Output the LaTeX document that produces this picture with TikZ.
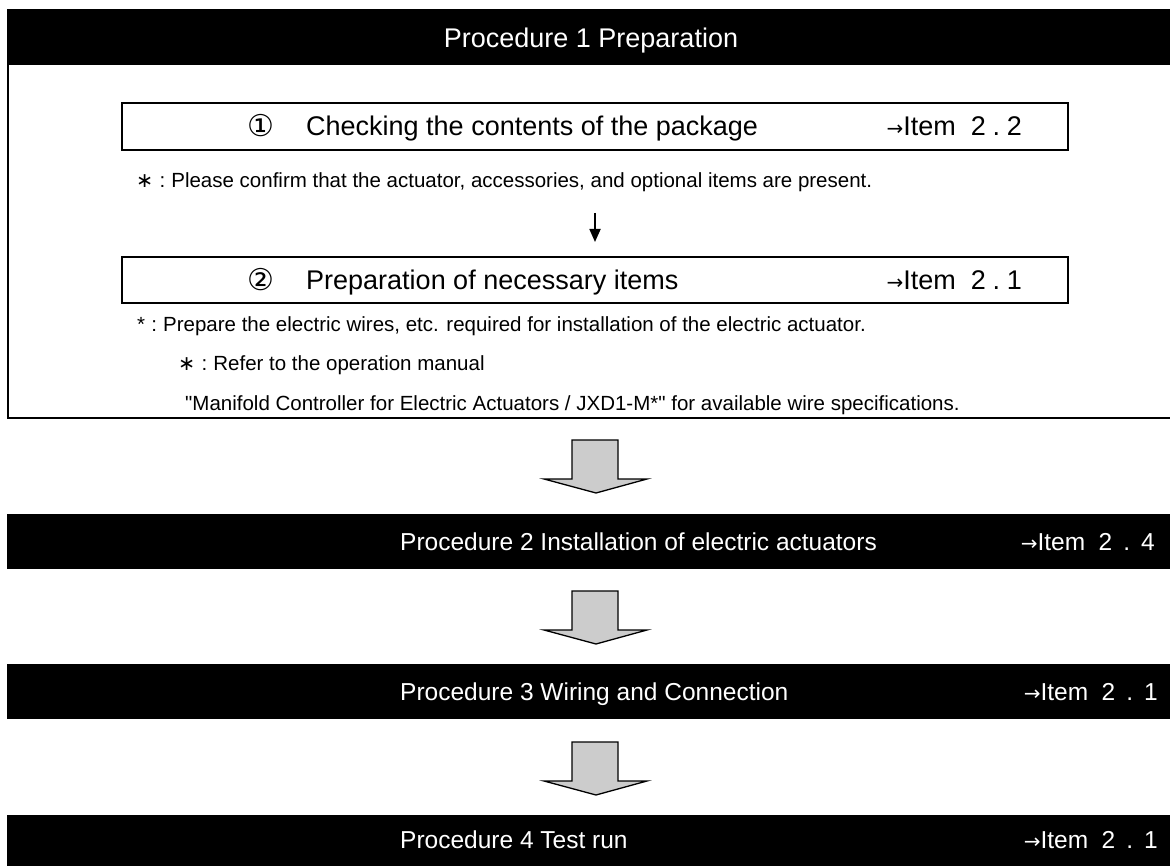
\documentclass[tikz,border=0pt]{standalone}
\usepackage{fontspec}
\setmainfont{Liberation Sans}[Ligatures=TeXOff]
\newfontfamily\symfont{DejaVu Sans}
\usetikzlibrary{positioning,arrows.meta}
\newcommand{\bigtxt}{\fontsize{27}{32}\selectfont}
\newcommand{\bartxt}{\fontsize{24.5}{30}\selectfont}
\newcommand{\notetxt}{\fontsize{20.5}{24}\selectfont}
\newcommand{\itemno}[3][0.25em]{{\symfont\fontsize{20}{20}\selectfont →}Item\hspace{0.55em}#2\hspace{#1}.\hspace{#1}#3}

\begin{document}
\begin{tikzpicture}[x=1pt,y=-1pt,>={Triangle[length=13pt,width=11pt]},
  every node/.style={inner sep=0pt},
  bar/.style={fill=black,minimum width=1168pt,minimum height=55pt},
  stepbox/.style={draw,line width=2pt,minimum width=946pt,minimum height=47pt},
  head/.style={font=\bartxt,text=white,anchor=base west},
  main/.style={font=\bigtxt,anchor=base west},
  note/.style={font=\notetxt,anchor=base west},
  bigarrow/.style={draw,line width=1.3pt,fill=black!20,line join=miter}]
\useasboundingbox (0,0) rectangle (1170,866);

% procedure 1 frame
\draw[line width=2pt] (8,10) rectangle (1176,418);
\node[bar] (p1) at (591,38) {};
\node[head,font=\bigtxt,anchor=base] (p1t) at (591,47.5) {Procedure 1 Preparation};

\node[stepbox] (chk) at (595,126.5) {};
\node[main] (chkn) at (247,137) {\symfont\fontsize{30}{30}\selectfont ①};
\node[main] (chkt) at (306,136) {Checking the contents of the package};
\node[main,anchor=base east] (chkr) at (1022,136) {\itemno{2}{2}};
\node[note] (n1) at (136,188) {{\symfont ∗}\hspace{0.3em}:\hspace{0.3em}Please confirm that the actuator, accessories, and optional items are present.};

\coordinate (a1) at (595,213);
\node[stepbox,minimum height=46pt] (prep) at (595,280) {};
\node[main] (prepn) at (247,290.5) {\symfont\fontsize{30}{30}\selectfont ②};
\node[main] (prept) at (306,289.5) {Preparation of necessary items};
\node[main,anchor=base east] (prepr) at (1022,289.5) {\itemno{2}{1}};
\path ([yshift=14pt]prep.north) coordinate (a2);
\draw[->,line width=1.8pt] (a1) -- (a1 |- a2);

\node[note] (n2) at (137,332) {*\hspace{0.3em}:\hspace{0.3em}Prepare the electric wires, etc. required for installation of the electric actuator.};
\node[note] (n3) at (178,371) {{\symfont ∗}\hspace{0.3em}:\hspace{0.3em}Refer to the operation manual};
\node[note] (n4) at (185,410) {"Manifold Controller for Electric Actuators / JXD1-M*" for available wire specifications.};

% block arrows
\foreach \t in {440,591,742}
  \filldraw[bigarrow] (572,\t) -- (618,\t) -- (618,\t+39) -- (647,\t+39)
    -- (596,\t+53) -- (544,\t+39) -- (572,\t+39) -- cycle;

% procedures 2-4
\node[bar] (p2) at (591,541) {};
\node[head] (p2t) at (400,550) {Procedure 2 Installation of electric actuators};
\node[head,anchor=base east] (p2r) at (1155,550) {\itemno[0.45em]{2}{4}};

\node[bar] (p3) at (591,691) {};
\node[head] (p3t) at (400,700) {Procedure 3 Wiring and Connection};
\node[head,anchor=base east] (p3r) at (1158,700) {\itemno[0.45em]{2}{1}};

\node[bar] (p4) at (591,842.5) {};
\node[head] (p4t) at (400,848) {Procedure 4 Test run};
\node[head,anchor=base east] (p4r) at (1158,848) {\itemno[0.45em]{2}{1}};
\end{tikzpicture}
\end{document}
